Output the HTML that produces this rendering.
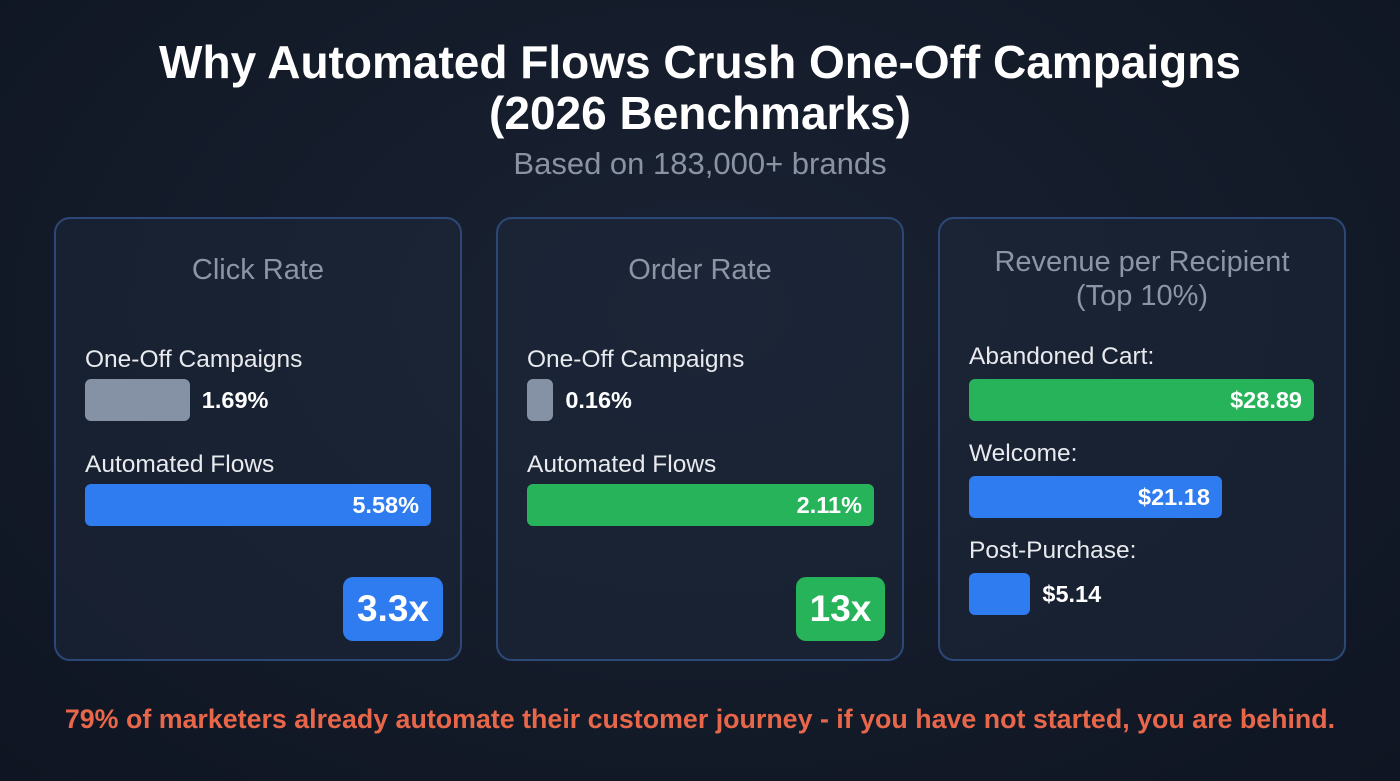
<!DOCTYPE html>
<html><head><meta charset="utf-8"><style>
*{margin:0;padding:0;box-sizing:border-box}
body{width:1400px;height:781px;background:radial-gradient(ellipse at 50% 40%,#1a2334 0%,#131a28 60%,#0f1522 100%);font-family:"Liberation Sans",sans-serif;position:relative;overflow:hidden;color:#fff}
.abs{position:absolute}
.title{left:0;width:1400px;text-align:center;font-weight:bold;font-size:46px;line-height:51px;top:37px;color:#fff}
.sub{left:0;width:1400px;text-align:center;font-size:31px;top:146px;color:#8a93a3}
.panel{position:absolute;top:217px;width:408px;height:444px;border:2px solid #2c4878;border-radius:16px;background:rgba(30,40,58,0.55)}
.ptitle{position:absolute;left:0;width:100%;text-align:center;color:#8b95a5;font-size:29px}
.lbl{position:absolute;font-size:24.5px;color:#e8eaee}
.bar{position:absolute;border-radius:6px}
.val{position:absolute;font-size:23.5px;font-weight:bold;color:#fff;line-height:42px}
.badge{position:absolute;border-radius:10px;font-size:37px;font-weight:bold;color:#fff;text-align:center;line-height:64px}
.foot{left:0;width:1400px;text-align:center;top:704px;font-size:26.8px;font-weight:bold;color:#e8674a;white-space:nowrap}
</style></head><body>
<div class="abs title">Why Automated Flows Crush One-Off Campaigns<br>(2026 Benchmarks)</div>
<div class="abs sub">Based on 183,000+ brands</div>
<div id="root"></div>
<div class="abs foot">79% of marketers already automate their customer journey - if you have not started, you are behind.</div>
<script>
const panelTitles=["Click Rate","Order Rate","Revenue per Recipient<br>(Top 10%)"];
const clickCats=["One-Off Campaigns","Automated Flows"];
const clickVals=[1.69,5.58];
const orderCats=["One-Off Campaigns","Automated Flows"];
const orderVals=[0.16,2.11];
const revCats=["Abandoned Cart:","Welcome:","Post-Purchase:"];
const revVals=[28.89,21.18,5.14];
const badges=["3.3x","13x"];
const root=document.getElementById('root');
function mk(cls,parent,html){const d=document.createElement('div');d.className=cls;if(html!==undefined)d.innerHTML=html;parent.appendChild(d);return d;}
const panelX=[54,496,938];
function panel(i){const p=mk('panel',root);p.style.left=panelX[i]+'px';


const t=mk('ptitle',p,panelTitles[i]);


if(i<2){t.style.top='35px';}else{t.style.top='26px';t.style.lineHeight='34px';}
return p;}
function bars(p,cats,vals,colors,fullW,rowTop,rowGap,lblOff){
 const maxV=Math.max(...vals);
 cats.forEach((c,k)=>{
  const y=rowTop+k*rowGap;
  const l=mk('lbl',p,c);l.style.left='29px';l.style.top=(y-lblOff)+'px';
  
  
  const w=Math.max(14,vals[k]/maxV*fullW);
  const b=mk('bar',p);b.style.left='29px';b.style.top=y+'px';b.style.width=w+'px';b.style.height='42px';b.style.background=colors[k];
  
  
  const txt=(c.indexOf(':')>0?'$'+vals[k].toFixed(2):vals[k].toFixed(2)+'%');
  const v=mk('val',p,txt);v.style.top=y+'px';
  
  
  if(w>150){v.style.left=(29+w-160)+'px';v.style.width='148px';v.style.textAlign='right';}
  else{v.style.left=(29+w+12)+'px';}
 });
}
const p1=panel(0);bars(p1,clickCats,clickVals,['#8592a5','#2f7cf0'],346,160,105,33);
const p2=panel(1);bars(p2,orderCats,orderVals,['#8592a5','#26b35a'],347,160,105,33);
const p3=panel(2);bars(p3,revCats,revVals,['#26b35a','#2f7cf0','#2f7cf0'],345,160,97,36);
const bcol=['#2f7cf0','#26b35a'];const bx=[287,298];const bw=[100,89];
[p1,p2].forEach((p,i)=>{const b=mk('badge',p,badges[i]);b.style.left=bx[i]+'px';b.style.top='358px';b.style.width=bw[i]+'px';b.style.height='64px';b.style.background=bcol[i];

});
</script>
</body></html>
